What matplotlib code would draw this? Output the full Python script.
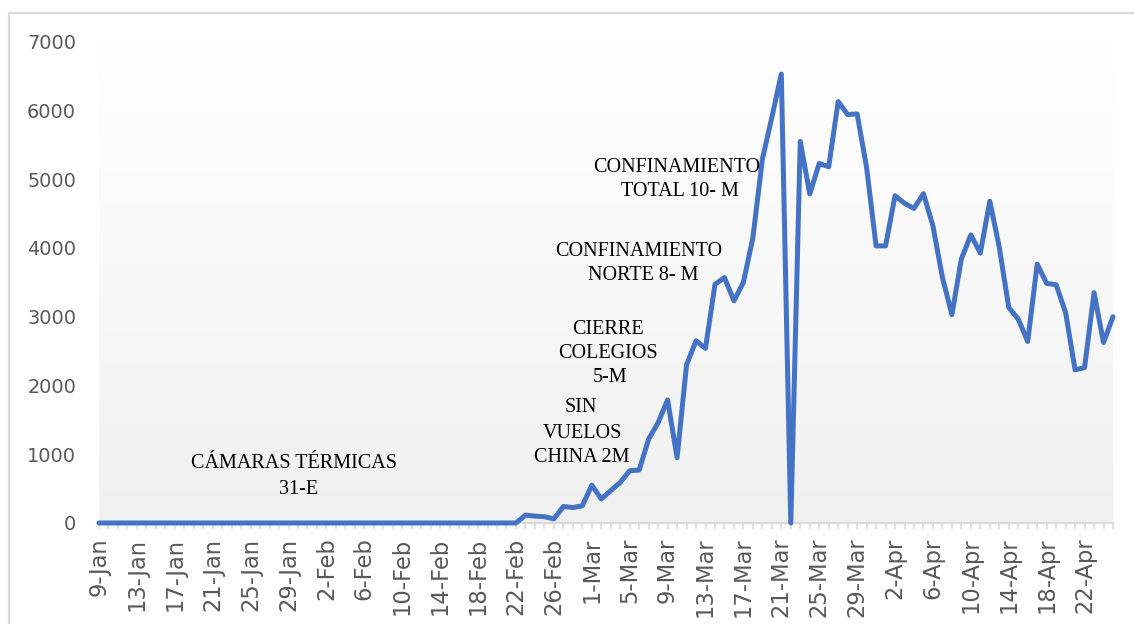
import matplotlib
matplotlib.use('Agg')
import matplotlib.pyplot as plt
import numpy as np
import pandas as pd
from matplotlib.patches import Rectangle
from matplotlib.colors import LinearSegmentedColormap

# ---- data ----
dates = pd.date_range('2020-01-09', '2020-04-25', freq='D')
labels = [f"{d.day}-{d.strftime('%b')}" for d in dates]
values = [0, 0, 0, 0, 0, 0, 0, 0, 0, 0,
          0, 0, 0, 0, 0, 0, 0, 0, 0, 0,
          0, 0, 0, 0, 0, 0, 0, 0, 0, 0,
          0, 0, 0, 0, 0, 0, 0, 0, 0, 0,
          0, 0, 0, 0, 0,
          115, 100, 92, 60, 240, 225, 250, 550, 350, 470,
          590, 760, 770, 1220, 1460, 1790, 950, 2300, 2650, 2540,
          3470, 3570, 3230, 3500, 4150, 5290, 5900, 6530, 0, 5550,
          4785, 5230, 5180, 6130, 5940, 5950, 5170, 4030, 4030, 4760,
          4650, 4575, 4790, 4320, 3570, 3030, 3840, 4190, 3925, 4680,
          4010, 3135, 2965, 2640, 3765, 3485, 3465, 3060, 2227, 2260,
          3350, 2625, 3000]
yticks = [0, 1000, 2000, 3000, 4000, 5000, 6000, 7000]
annotations = ["CÁMARAS TÉRMICAS", "31-E",
               "SIN", "VUELOS", "CHINA 2M",
               "CIERRE", "COLEGIOS", "5-M",
               "CONFINAMIENTO", "NORTE 8- M",
               "CONFINAMIENTO", "TOTAL 10- M"]

# ---- layout (pixels) ----
W, H = 1134, 624
ann_pos = [(294, 463), (299, 489),
           (581, 408), (582, 433), (582, 457),
           (608, 329), (608, 353), (610, 378),
           (639, 251), (643, 276),
           (677, 168), (680, 192)]

fig = plt.figure(figsize=(W / 100, H / 100), dpi=100)
fig.patch.set_facecolor('white')
fig.add_artist(Rectangle((9 / W, -0.1), 2, 1 - 13 / H + 0.1, transform=fig.transFigure,
                         facecolor='none', edgecolor='#d9d9d9', lw=1.6))

left, right, top, bottom = 99, 1113, 41.7, 523
ax = fig.add_axes([left / W, 1 - bottom / H, (right - left) / W, (bottom - top) / H])
x = np.arange(len(values))
ax.set_xlim(0, len(values) - 1)
ax.set_ylim(0, 7000)

cmap = LinearSegmentedColormap.from_list('g', ['#ffffff', '#f0f0f0'])
ax.imshow(np.linspace(0, 1, 256).reshape(-1, 1), cmap=cmap, extent=[0, len(values) - 1, 0, 7000],
          aspect='auto', zorder=0, origin='upper')
ax.set_facecolor('none')

ax.plot(x, values, color='#4472C4', lw=3.6, solid_joinstyle='round', solid_capstyle='round',
        clip_on=False, zorder=3)

for s in ['top', 'right', 'left']:
    ax.spines[s].set_visible(False)
ax.spines['bottom'].set_color('#d9d9d9')
ax.spines['bottom'].set_linewidth(1.6)

ax.set_xticks(x[::4])
ax.set_xticklabels(labels[::4], rotation=90, fontsize=16.3, color='#595959', family='DejaVu Sans')
ax.set_xticks(x, minor=True)
ax.tick_params(axis='x', which='both', direction='out', length=4.5, width=1.2, color='#d9d9d9', pad=6)
ax.set_yticks(yticks)
ax.set_yticklabels([str(v) for v in yticks], fontsize=13.9, color='#595959', family='DejaVu Sans')
ax.tick_params(axis='y', length=0, pad=16.5)

for t, (px, py) in zip(annotations, ann_pos):
    fig.text(px / W, 1 - py / H, t, ha='center', va='center', fontsize=14.5,
             family='Liberation Serif', color='#000000')

fig.savefig('out.png', dpi=100)
